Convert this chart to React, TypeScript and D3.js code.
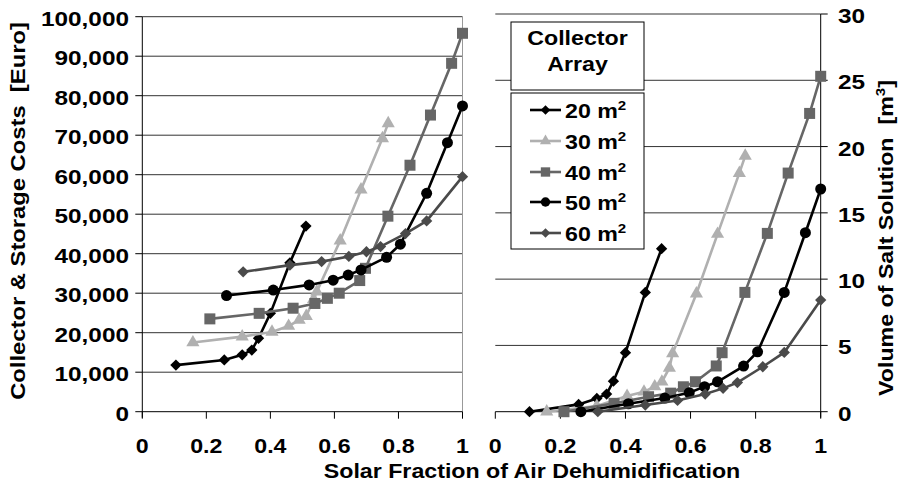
import React from "react";
import * as d3 from "d3";

const seriesNames = ["20", "30", "40", "50", "60"];

const x20 = [0.105, 0.256, 0.312, 0.342, 0.363, 0.4, 0.461, 0.511];
const cost20 = [11800, 13100, 14400, 15600, 18600, 24900, 37700, 47000];
const vol20 = [0, 0.55, 1.0, 1.33, 2.3, 4.45, 9.0, 12.3];

const x30 = [0.158, 0.312, 0.405, 0.457, 0.49, 0.512, 0.535, 0.545, 0.618, 0.683, 0.75, 0.768];
const cost30 = [17500, 19000, 20200, 21700, 23200, 24200, 28500, 30400, 43300, 56200, 69200, 73000];
const vol30 = [0, 0.43, 1.18, 1.5, 1.9, 2.26, 3.3, 4.4, 8.9, 13.4, 18.0, 19.3];

const x40 = [0.211, 0.365, 0.471, 0.539, 0.578, 0.615, 0.679, 0.697, 0.767, 0.836, 0.9, 0.966, 1.0];
const cost40 = [23500, 24900, 26200, 27400, 28700, 30000, 33200, 36300, 49500, 62400, 75100, 88200, 95800];
const vol40 = [0, 0.63, 1.13, 1.4, 1.88, 2.26, 3.45, 4.45, 9.0, 13.45, 18.0, 22.5, 25.3];

const x50 = [0.263, 0.409, 0.521, 0.596, 0.643, 0.683, 0.763, 0.806, 0.888, 0.953, 1.0];
const cost50 = [29400, 30800, 32100, 33300, 34600, 35900, 39100, 42400, 55300, 68100, 77400];
const vol50 = [0, 0.6, 1.03, 1.43, 1.89, 2.26, 3.44, 4.52, 9.0, 13.5, 16.8];

const x60 = [0.315, 0.461, 0.56, 0.645, 0.7, 0.744, 0.822, 0.888, 1.0];
const cost60 = [35400, 37100, 38000, 39300, 40500, 41800, 45100, 48300, 59500];
const vol60 = [0, 0.5, 0.85, 1.33, 1.76, 2.2, 3.39, 4.47, 8.42];

const xTicks = [0, 0.2, 0.4, 0.6, 0.8, 1];
const costTicks = [0, 10000, 20000, 30000, 40000, 50000, 60000, 70000, 80000, 90000, 100000];
const volTicks = [0, 5, 10, 15, 20, 25, 30];

const series = [
  { name: seriesNames[0], xs: x20, cost: cost20, vol: vol20, color: "#000000", marker: "diamond" },
  { name: seriesNames[1], xs: x30, cost: cost30, vol: vol30, color: "#b0b0b0", marker: "triangle" },
  { name: seriesNames[2], xs: x40, cost: cost40, vol: vol40, color: "#666666", marker: "square" },
  { name: seriesNames[3], xs: x50, cost: cost50, vol: vol50, color: "#000000", marker: "circle" },
  { name: seriesNames[4], xs: x60, cost: cost60, vol: vol60, color: "#4a4a4a", marker: "diamond" },
];

const FONT = "'Liberation Sans', Arial, Helvetica, sans-serif";
const SX = 1.16;

function T({ x, y, rot, anchor, size, dy, children }: any) {
  return (
    <text
      transform={`translate(${x},${y})${rot ? " rotate(-90)" : ""} scale(${SX},1)`}
      textAnchor={anchor || "start"}
      fontSize={size}
      dy={dy}
    >
      {children}
    </text>
  );
}

function Marker({ type, cx, cy, color, s = 1 }: { type: string; cx: number; cy: number; color: string; s?: number }) {
  if (type === "circle") return <circle cx={cx} cy={cy} r={5.5 * s} fill={color} />;
  if (type === "square")
    return <rect x={cx - 5.5 * s} y={cy - 5.5 * s} width={11 * s} height={11 * s} fill={color} />;
  if (type === "diamond")
    return (
      <rect x={cx - 4 * s} y={cy - 4 * s} width={8 * s} height={8 * s} fill={color} transform={`rotate(45 ${cx} ${cy})`} />
    );
  const p = d3.symbol().type(d3.symbolTriangle).size(75 * s * s)();
  return <path d={p || ""} transform={`translate(${cx},${cy})`} fill={color} />;
}

export default function App() {
  const xL = d3.scaleLinear().domain([0, 1]).range([142.3, 462.5]);
  const yL = d3.scaleLinear().domain([0, 100000]).range([411.7, 16.7]);
  const xR = d3.scaleLinear().domain([0, 1]).range([495.3, 820.7]);
  const yR = d3.scaleLinear().domain([0, 30]).range([411.7, 14]);
  const fmt = d3.format(",");

  const panel = (xs: any, ys: any, key: "cost" | "vol") =>
    series.map((s, si) => {
      const pts: [number, number][] = s.xs.map((v, i) => [xs(v), ys((s as any)[key][i])]);
      const line = d3.line()(pts) || "";
      return (
        <g key={key + si}>
          <path d={line} fill="none" stroke={s.color} strokeWidth={2.6} />
          {pts.map((p, i) => (
            <Marker key={i} type={s.marker} cx={p[0]} cy={p[1]} color={s.color} />
          ))}
        </g>
      );
    });

  const legendY = [110, 141, 172, 202, 233];

  return (
    <svg
      width={899}
      height={487}
      style={{ position: "absolute", left: 0, top: 0, background: "#fff" }}
      fontFamily={FONT}
      fontWeight="bold"
    >
      <rect width={899} height={487} fill="#fff" />
      {/* Left panel grid */}
      {costTicks.map((t) => (
        <g key={"lg" + t}>
          {t > 0 && <line x1={xL(0)} x2={xL(1)} y1={yL(t)} y2={yL(t)} stroke="#333" strokeWidth={1} />}
          <line x1={xL(0) - 7} x2={xL(0)} y1={yL(t)} y2={yL(t)} stroke="#000" strokeWidth={1} />
          <T x={129} y={yL(t) + 1.5} anchor="end" size={21} dy="0.36em">
            {fmt(t)}
          </T>
        </g>
      ))}
      <line x1={xL(1)} x2={xL(1)} y1={yL(100000)} y2={yL(0)} stroke="#999" strokeWidth={1} />
      <line x1={xL(0)} x2={xL(0)} y1={yL(100000)} y2={yL(0) + 6} stroke="#000" strokeWidth={1} />
      <line x1={xL(0)} x2={xL(1)} y1={yL(0)} y2={yL(0)} stroke="#000" strokeWidth={1} />
      {xTicks.map((t) => (
        <g key={"lx" + t}>
          <line x1={xL(t)} x2={xL(t)} y1={yL(0)} y2={yL(0) + 7} stroke="#000" />
          <T x={xL(t)} y={453} anchor="middle" size={20}>
            {String(t)}
          </T>
        </g>
      ))}

      {/* Right panel grid */}
      {volTicks.map((t) => (
        <g key={"rg" + t}>
          {t > 0 && <line x1={xR(0)} x2={xR(1)} y1={yR(t)} y2={yR(t)} stroke="#333" strokeWidth={1} />}
          <line x1={xR(1)} x2={xR(1) + 7} y1={yR(t)} y2={yR(t)} stroke="#000" strokeWidth={1} />
          <T x={838} y={yR(t) + 1.5} anchor="start" size={21} dy="0.36em">
            {String(t)}
          </T>
        </g>
      ))}
      <line x1={xR(1)} x2={xR(1)} y1={yR(30)} y2={yR(0) + 6} stroke="#000" strokeWidth={1} />
      <line x1={xR(0)} x2={xR(1)} y1={yR(0)} y2={yR(0)} stroke="#000" strokeWidth={1} />
      {xTicks.map((t) => (
        <g key={"rx" + t}>
          <line x1={xR(t)} x2={xR(t)} y1={yR(0)} y2={yR(0) + 7} stroke="#000" />
          <T x={xR(t)} y={453} anchor="middle" size={20}>
            {String(t)}
          </T>
        </g>
      ))}

      {panel(xL, yL, "cost")}
      {panel(xR, yR, "vol")}

      {/* Axis titles */}
      <T x={532} y={478} anchor="middle" size={20}>
        Solar Fraction of Air Dehumidification
      </T>
      <T x={25} y={211} rot anchor="middle" size={20.5}>
        Collector &amp; Storage Costs{"\u00a0\u00a0"}[Euro]
      </T>
      <T x={893} y={238} rot anchor="middle" size={20}>
        Volume of Salt Solution{"\u00a0\u00a0"}[m<tspan dy={-8} fontSize={13}>3</tspan>
        <tspan dy={8}>]</tspan>
      </T>

      {/* Legend */}
      <rect x={511} y={22} width={133} height={68} fill="#fff" stroke="#000" strokeWidth={1} />
      <T x={577.5} y={45} anchor="middle" size={20}>Collector</T>
      <T x={577.5} y={71} anchor="middle" size={20}>Array</T>
      <rect x={511} y={93} width={133} height={156} fill="#fff" stroke="#000" strokeWidth={1} />
      {series.map((s, i) => (
        <g key={"lgd" + i}>
          <line x1={530} x2={561} y1={legendY[i]} y2={legendY[i]} stroke={s.color} strokeWidth={2.6} />
          <Marker type={s.marker} cx={545.5} cy={legendY[i]} color={s.color} s={0.85} />
          <T x={565} y={legendY[i] + 1} dy="0.36em" size={20}>
            {s.name} m<tspan dy={-8} fontSize={13}>2</tspan>
          </T>
        </g>
      ))}
    </svg>
  );
}
